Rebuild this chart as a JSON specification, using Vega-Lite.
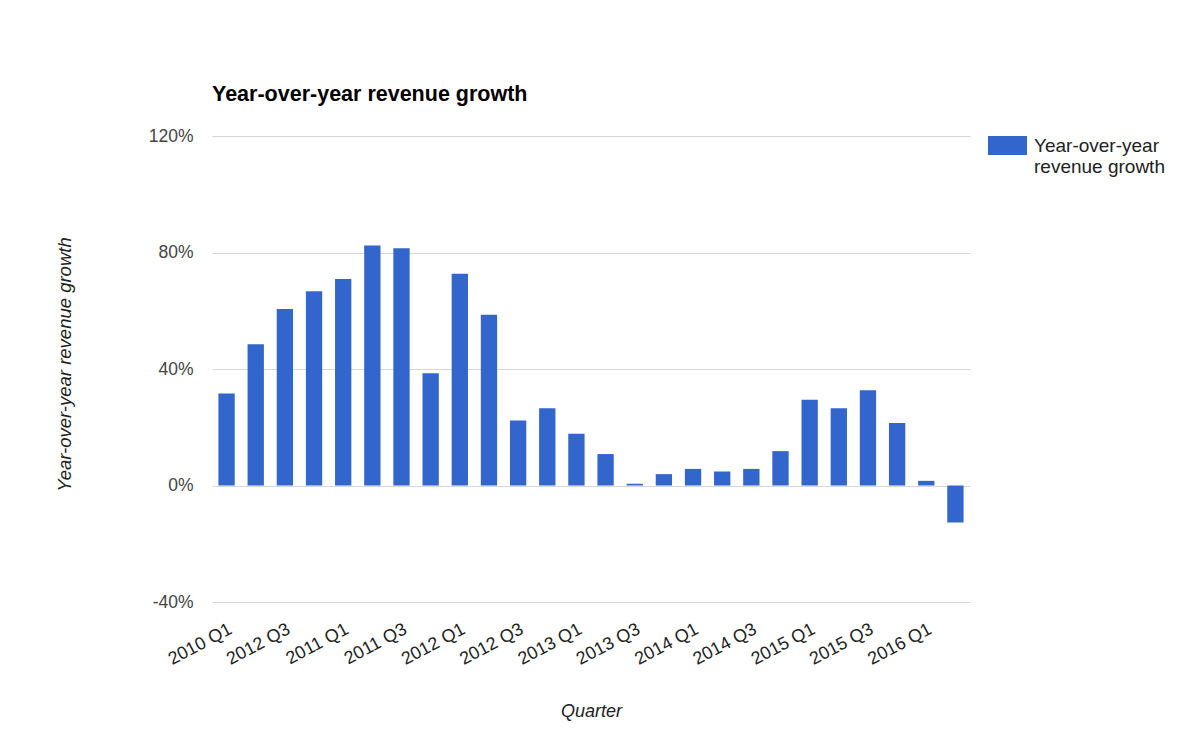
{
  "$schema": "https://vega.github.io/schema/vega-lite/v6.json",
  "autosize": {"type": "none"},
  "width": 758,
  "height": 466,
  "padding": {"left": 212, "top": 136, "right": 230, "bottom": 130},
  "background": "white",
  "view": {"stroke": null},
  "title": {
    "text": "Year-over-year revenue growth",
    "anchor": "start",
    "frame": "group",
    "font": "Liberation Sans",
    "fontSize": 21.5,
    "fontWeight": "bold",
    "color": "#000000",
    "offset": 21
  },
  "data": {
    "values": [
      {"quarter": "2010 Q1", "growth": 31.6},
      {"quarter": "2010 Q2", "growth": 48.5},
      {"quarter": "2010 Q3", "growth": 60.6},
      {"quarter": "2010 Q4", "growth": 66.7},
      {"quarter": "2011 Q1", "growth": 70.9},
      {"quarter": "2011 Q2", "growth": 82.4},
      {"quarter": "2011 Q3", "growth": 81.5},
      {"quarter": "2011 Q4", "growth": 38.5},
      {"quarter": "2012 Q1", "growth": 72.7},
      {"quarter": "2012 Q2", "growth": 58.6},
      {"quarter": "2012 Q3", "growth": 22.3},
      {"quarter": "2012 Q4", "growth": 26.5},
      {"quarter": "2013 Q1", "growth": 17.8},
      {"quarter": "2013 Q2", "growth": 10.8},
      {"quarter": "2013 Q3", "growth": 0.6},
      {"quarter": "2013 Q4", "growth": 3.9},
      {"quarter": "2014 Q1", "growth": 5.7},
      {"quarter": "2014 Q2", "growth": 4.8},
      {"quarter": "2014 Q3", "growth": 5.7},
      {"quarter": "2014 Q4", "growth": 11.8},
      {"quarter": "2015 Q1", "growth": 29.4},
      {"quarter": "2015 Q2", "growth": 26.5},
      {"quarter": "2015 Q3", "growth": 32.7},
      {"quarter": "2015 Q4", "growth": 21.5},
      {"quarter": "2016 Q1", "growth": 1.6},
      {"quarter": "2016 Q2", "growth": -12.7}
    ]
  },
  "encoding": {
    "x": {
      "field": "quarter",
      "type": "ordinal",
      "sort": null,
      "scale": {"paddingInner": 0.44, "paddingOuter": 0.22},
      "axis": {
        "title": "Quarter",
        "titleFont": "Liberation Sans",
        "titleFontSize": 18,
        "titleFontStyle": "italic",
        "titleFontWeight": "normal",
        "titleColor": "#222222",
        "titlePadding": 34,
        "values": ["2010 Q1", "2010 Q3", "2011 Q1", "2011 Q3", "2012 Q1", "2012 Q3", "2013 Q1", "2013 Q3", "2014 Q1", "2014 Q3", "2015 Q1", "2015 Q3", "2016 Q1"],
        "labelExpr": "datum.value == '2010 Q3' ? '2012 Q3' : datum.value",
        "labelAngle": -28,
        "labelAlign": "right",
        "labelBaseline": "top",
        "labelFont": "Liberation Sans",
        "labelFontSize": 18,
        "labelColor": "#222222",
        "labelPadding": 18,
        "ticks": false,
        "tickSize": 0,
        "domain": false,
        "grid": false
      }
    }
  },
  "layer": [
    {
      "mark": {"type": "bar"},
      "encoding": {
        "y": {
          "field": "growth",
          "type": "quantitative",
          "scale": {"domain": [-40, 120], "nice": false},
          "axis": {
            "title": "Year-over-year revenue growth",
            "titleFont": "Liberation Sans",
            "titleFontSize": 18.5,
            "titleFontStyle": "italic",
            "titleFontWeight": "normal",
            "titleColor": "#222222",
            "titleX": -138,
            "titleY": 228,
            "values": [-40, 0, 40, 80, 120],
            "labelExpr": "datum.value + '%'",
            "labelFont": "Liberation Sans",
            "labelFontSize": 17.5,
            "labelColor": "#444444",
            "labelPadding": 19,
            "ticks": false,
            "tickSize": 0,
            "domain": false,
            "grid": true,
            "gridColor": "#d6d6d6",
            "gridWidth": 1
          }
        },
        "color": {
          "datum": "Year-over-year revenue growth",
          "scale": {"range": ["#3366cc"]},
          "legend": {
            "title": null,
            "orient": "none",
            "legendX": 776,
            "legendY": -10,
            "symbolType": "M-1,-0.49H1V0.49H-1Z",
            "symbolSize": 1521,
            "symbolStrokeWidth": 0,
            "symbolOpacity": 1,
            "labelExpr": "['Year-over-year', 'revenue growth']",
            "labelFont": "Liberation Sans",
            "labelFontSize": 19,
            "labelColor": "#222222",
            "labelOffset": 7,
            "labelLimit": 300
          }
        }
      }
    },
    {
      "mark": {"type": "rule", "color": "#777777", "strokeWidth": 2},
      "encoding": {"y": {"datum": 0}}
    }
  ]
}
